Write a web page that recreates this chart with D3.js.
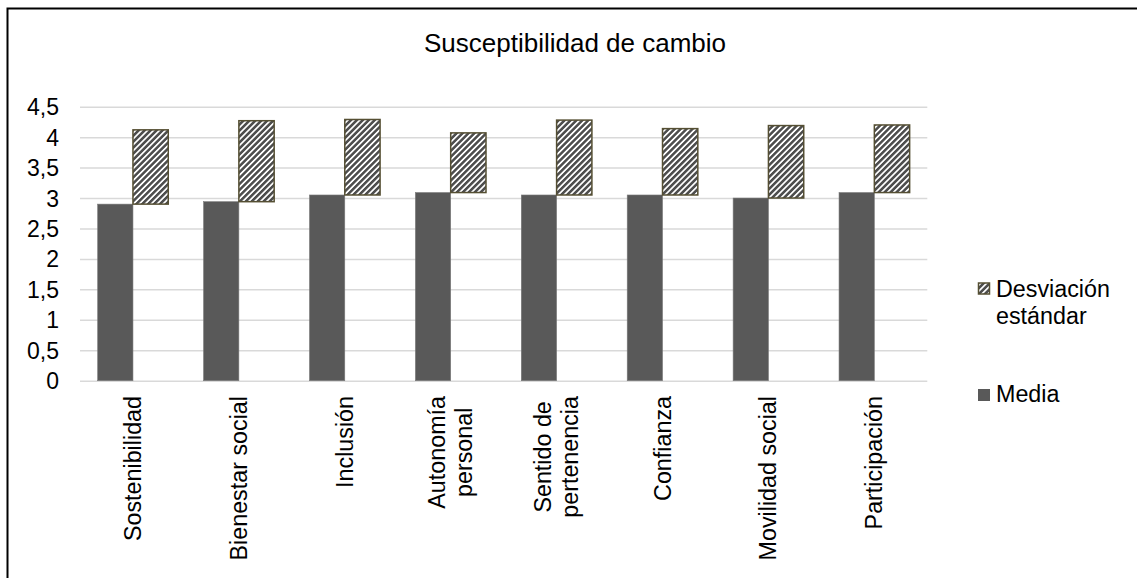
<!DOCTYPE html>
<html>
<head>
<meta charset="utf-8">
<script src="https://cdn.jsdelivr.net/npm/d3@7"></script>
<style>
  html, body { margin: 0; padding: 0; background: #fff; }
  svg { display: block; }
  text { font-family: "Liberation Sans", Arial, sans-serif; fill: #000; }
</style>
</head>
<body>
<svg id="chart" width="1137" height="578"></svg>
<script>
// Susceptibilidad de cambio: media y desviación estándar por dimensión
const categories = [
  "Sostenibilidad", "Bienestar social", "Inclusión", "Autonomía personal",
  "Sentido de pertenencia", "Confianza", "Movilidad social", "Participación"
];
// Multi-line category labels as they appear on the axis
const categoryLines = [
  ["Sostenibilidad"], ["Bienestar social"], ["Inclusión"], ["Autonomía", "personal"],
  ["Sentido de", "pertenencia"], ["Confianza"], ["Movilidad social"], ["Participación"]
];
const media = [2.90, 2.94, 3.05, 3.09, 3.05, 3.05, 3.00, 3.09];
const desviacion = [1.22, 1.33, 1.24, 0.98, 1.23, 1.09, 1.19, 1.11];
const yTicks = [0, 0.5, 1, 1.5, 2, 2.5, 3, 3.5, 4, 4.5];
const seriesNames = ["Media", "Desviación estándar"];

const svg = d3.select("#chart");
const fmt = v => String(v).replace(".", ",");

const plot = { left: 80, right: 927.3, top: 106.7, bottom: 380.7 };

const x = d3.scaleBand()
  .domain(categories)
  .range([plot.left, plot.right])
  .paddingInner(1 / 3)
  .paddingOuter(1 / 6);

const xSeries = d3.scaleBand()
  .domain(seriesNames)
  .range([0, x.bandwidth()])
  .padding(0);

const y = d3.scaleLinear().domain([0, 4.5]).range([plot.bottom, plot.top]);

// Hatch fill for the deviation bars
const defs = svg.append("defs");
const pat = defs.append("pattern")
  .attr("id", "hatch")
  .attr("patternUnits", "userSpaceOnUse")
  .attr("width", 4.2)
  .attr("height", 4.2)
  .attr("patternTransform", "rotate(45)");
pat.append("rect").attr("width", 4.2).attr("height", 4.2).attr("fill", "#ffffff");
pat.append("rect").attr("width", 2.5).attr("height", 4.2).attr("fill", "#4d4d4d");

// Outer frame
svg.append("rect")
  .attr("x", 7.5).attr("y", 8.5)
  .attr("width", 1140).attr("height", 580)
  .attr("fill", "none")
  .attr("stroke", "#000")
  .attr("stroke-width", 2);

// Title
svg.append("text")
  .attr("x", 575).attr("y", 52)
  .attr("text-anchor", "middle")
  .style("font-size", "26px")
  .text("Susceptibilidad de cambio");

// Gridlines and value axis labels
const yAxis = d3.axisLeft(y).tickValues(yTicks).tickSize(-(plot.right - plot.left)).tickFormat(fmt);
const gy = svg.append("g")
  .attr("transform", `translate(${plot.left},0)`)
  .call(yAxis);
gy.select(".domain").remove();
gy.selectAll(".tick line").attr("stroke", "#d9d9d9").attr("stroke-width", 1.5);
gy.selectAll(".tick text")
  .attr("x", -21)
  .attr("dy", "0.35em")
  .style("font-size", "23px")
  .style("font-family", "'Liberation Sans', Arial, sans-serif")
  .attr("fill", "#000");

// Media bars
svg.append("g").selectAll("rect")
  .data(categories)
  .join("rect")
  .attr("x", (d) => x(d) + xSeries("Media"))
  .attr("y", (d, i) => y(media[i]))
  .attr("width", xSeries.bandwidth())
  .attr("height", (d, i) => y(0) - y(media[i]))
  .attr("fill", "#595959")
  .attr("stroke", "#7a7a7a")
  .attr("stroke-width", 0.6);

// Deviation bars, floating above each mean
svg.append("g").selectAll("rect")
  .data(categories)
  .join("rect")
  .attr("x", (d) => x(d) + xSeries("Desviación estándar"))
  .attr("y", (d, i) => y(media[i] + desviacion[i]))
  .attr("width", xSeries.bandwidth())
  .attr("height", (d, i) => y(media[i]) - y(media[i] + desviacion[i]))
  .attr("fill", "url(#hatch)")
  .attr("stroke", "#554f33")
  .attr("stroke-width", 1.5);

// Category labels (rotated)
const labelTop = 396;
const lineGap = 27;
const gl = svg.append("g").selectAll("g")
  .data(categories)
  .join("g");
gl.each(function (d, i) {
  const g = d3.select(this);
  const lines = categoryLines[i];
  const cx = x(d) + x.bandwidth() / 2;
  const texts = lines.map((ln) =>
    g.append("text")
      .style("font-size", "23.3px")
      .attr("text-anchor", "middle")
      .attr("dominant-baseline", "central")
      .text(ln)
  );
  const maxLen = d3.max(texts, t => t.node().getComputedTextLength());
  const n = lines.length;
  texts.forEach((t, k) => {
    const off = (k - (n - 1) / 2) * lineGap;
    t.attr("transform", `translate(${cx + off},${labelTop + maxLen / 2}) rotate(-90)`);
  });
});

// Legend
const legend = svg.append("g");
legend.append("rect")
  .attr("x", 978.5).attr("y", 283)
  .attr("width", 11).attr("height", 11)
  .attr("fill", "url(#hatch)")
  .attr("stroke", "#554f33")
  .attr("stroke-width", 1.5);
legend.append("text")
  .attr("x", 996).attr("y", 297)
  .style("font-size", "23.3px")
  .text("Desviación");
legend.append("text")
  .attr("x", 996).attr("y", 323.5)
  .style("font-size", "23.3px")
  .text("estándar");
legend.append("rect")
  .attr("x", 978).attr("y", 389)
  .attr("width", 12).attr("height", 12)
  .attr("fill", "#595959");
legend.append("text")
  .attr("x", 996).attr("y", 402)
  .style("font-size", "23.3px")
  .text("Media");
</script>
</body>
</html>
